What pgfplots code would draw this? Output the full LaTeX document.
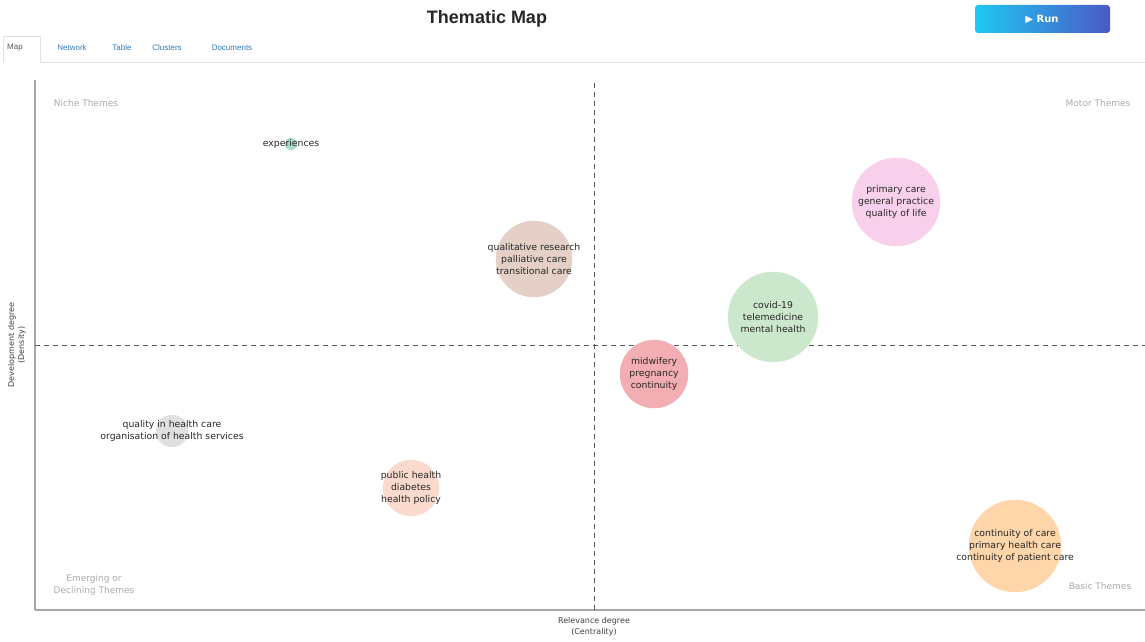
\documentclass[border=0pt]{standalone}
\usepackage{pgfplots}
\pgfplotsset{compat=1.18}
\usepackage{fontspec}
\setmainfont{DejaVu Sans}
\newfontfamily\arialf{Liberation Sans}
\definecolor{cExp}{RGB}{170,220,200}
\definecolor{cQual}{RGB}{228,208,198}
\definecolor{cPrim}{RGB}{248,208,235}
\definecolor{cCovid}{RGB}{204,232,204}
\definecolor{cMid}{RGB}{242,174,178}
\definecolor{cQlty}{RGB}{224,224,224}
\definecolor{cPub}{RGB}{250,218,205}
\definecolor{cCont}{RGB}{254,214,170}
\definecolor{tabblue}{RGB}{51,122,183}
\definecolor{runL}{RGB}{30,200,240}
\definecolor{runR}{RGB}{75,90,200}
\definecolor{qgray}{RGB}{170,170,170}
\begin{document}
\begin{tikzpicture}[x=1pt,y=1pt]
\useasboundingbox (0,0) rectangle (1145,641);
% header
\node[font=\arialf\bfseries\fontsize{18}{20}\selectfont, text=black!85] at (487,622) {Thematic Map};
\draw[black!12] (3,579) -- (3,605) -- (40,605) -- (40,579);
\draw[black!12] (40,579) -- (1145,579);
\node[font=\arialf\fontsize{8}{9}\selectfont, text=black!65] at (15,593) {Map};
\node[font=\arialf\fontsize{8}{9}\selectfont, text=tabblue] at (72,593) {Network};
\node[font=\arialf\fontsize{8}{9}\selectfont, text=tabblue] at (122,593) {Table};
\node[font=\arialf\fontsize{8}{9}\selectfont, text=tabblue] at (167,593) {Clusters};
\node[font=\arialf\fontsize{8}{9}\selectfont, text=tabblue] at (232,593) {Documents};
\shade[left color=runL, right color=runR, rounded corners=3pt] (975,608) rectangle (1110,636);
\node[text=white, font=\fontsize{10}{11}\selectfont\bfseries] at (1042,622) {▶ Run};
\begin{axis}[at={(35pt,31pt)}, anchor=south west, scale only axis,
  width=1110pt, height=530pt,
  xmin=-5.59, xmax=5.51, ymin=-2.65, ymax=2.65,
  axis x line*=bottom, axis y line*=left,
  axis line style={-, draw=black!35, line width=1.3pt},
  xtick=\empty, ytick=\empty, clip=false,
  nodes near coords align={center},
  every node near coord/.append style={anchor=center, align=center, text=black!85, font=\fontsize{9.3}{12.3}\selectfont}]
\addplot[only marks, mark=*, mark size=6pt, color=cExp, mark options={draw=cExp, fill=cExp},
  nodes near coords={experiences}] coordinates {(-3.03,2.01)};
\addplot[only marks, mark=*, mark size=38pt, color=cQual, mark options={draw=cQual, fill=cQual},
  nodes near coords={qualitative research\\palliative care\\transitional care}] coordinates {(-0.60,0.86)};
\addplot[only marks, mark=*, mark size=44pt, color=cPrim, mark options={draw=cPrim, fill=cPrim},
  nodes near coords={primary care\\general practice\\quality of life}] coordinates {(3.02,1.43)};
\addplot[only marks, mark=*, mark size=45pt, color=cCovid, mark options={draw=cCovid, fill=cCovid},
  nodes near coords={covid-19\\telemedicine\\mental health}] coordinates {(1.79,0.28)};
\addplot[only marks, mark=*, mark size=34pt, color=cMid, mark options={draw=cMid, fill=cMid},
  nodes near coords={midwifery\\pregnancy\\continuity}] coordinates {(0.60,-0.29)};
\addplot[only marks, mark=*, mark size=16pt, color=cQlty, mark options={draw=cQlty, fill=cQlty},
  nodes near coords={quality in health care\\organisation of health services}] coordinates {(-4.22,-0.86)};
\addplot[only marks, mark=*, mark size=28pt, color=cPub, mark options={draw=cPub, fill=cPub},
  nodes near coords={public health\\diabetes\\health policy}] coordinates {(-1.83,-1.43)};
\addplot[only marks, mark=*, mark size=46pt, color=cCont, mark options={draw=cCont, fill=cCont},
  nodes near coords={continuity of care\\primary health care\\continuity of patient care}] coordinates {(4.21,-2.01)};
\draw[dash pattern=on 5pt off 4pt, black!65, line width=0.9pt] (axis cs:0,-2.65) -- (axis cs:0,2.65);
\draw[dash pattern=on 5pt off 4pt, black!65, line width=0.9pt] (axis cs:-5.59,0) -- (axis cs:5.51,0);
\end{axis}
% quadrant labels
\node[text=qgray, font=\fontsize{9}{11}\selectfont] at (86,538) {Niche Themes};
\node[text=qgray, font=\fontsize{9}{11}\selectfont] at (1098,538) {Motor Themes};
\node[text=qgray, font=\fontsize{9}{11.5}\selectfont, align=center] at (94,56) {Emerging or\\Declining Themes};
\node[text=qgray, font=\fontsize{9}{11}\selectfont] at (1100,55) {Basic Themes};
% axis labels
\node[text=black!75, font=\fontsize{8}{11}\selectfont, align=center] at (594,14.5) {Relevance degree\\(Centrality)};
\node[text=black!75, font=\fontsize{8}{10}\selectfont, align=center, rotate=90] at (17,296) {Development degree\\(Density)};
\end{tikzpicture}
\end{document}
